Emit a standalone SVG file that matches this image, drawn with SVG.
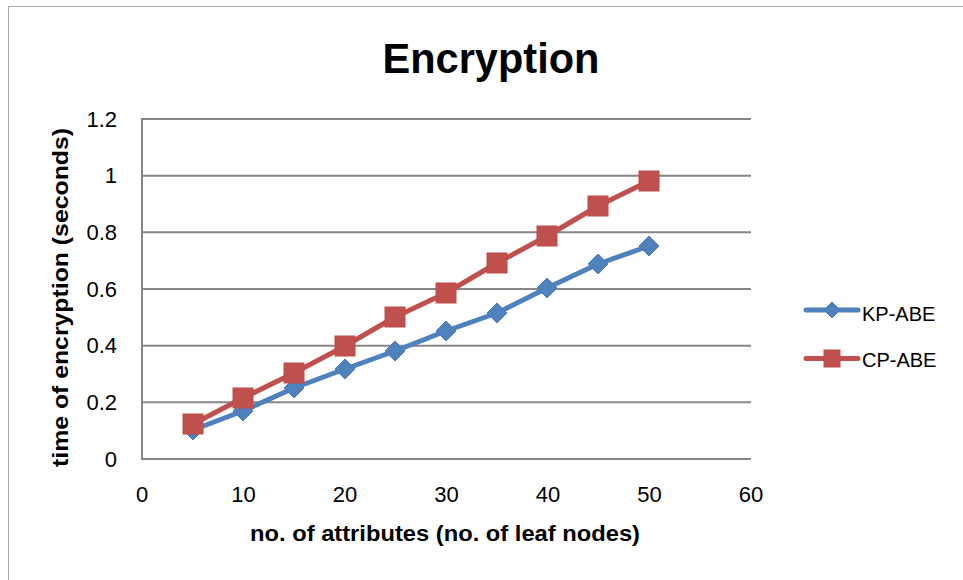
<svg xmlns="http://www.w3.org/2000/svg" width="963" height="580" viewBox="0 0 963 580">
<defs>
<style>
.grid{stroke:#878787;stroke-width:2;fill:none}
.tick{font-family:"Liberation Sans",Arial,sans-serif;font-size:22px;fill:#000}
.leg{font-family:"Liberation Sans",Arial,sans-serif;font-size:20px;fill:#000}
.bold{font-family:"Liberation Sans",Arial,sans-serif;font-weight:bold;fill:#000}
.kp{stroke:#4F81BD;stroke-width:5;fill:none;stroke-linejoin:round;stroke-linecap:round}
.cp{stroke:#C0504D;stroke-width:5;fill:none;stroke-linejoin:round;stroke-linecap:round}
.kpm{fill:#4F81BD;stroke:#4A7EBB;stroke-width:1}
.cpm{fill:#C0504D;stroke:#BE4B48;stroke-width:1}
</style>
<path id="dia" d="M0,-10 L10,0 L0,10 L-10,0 Z"/>
<rect id="sq" x="-10" y="-10" width="20" height="20"/>
<path id="ldia" d="M0,-8 L8,0 L0,8 L-8,0 Z"/>
<rect id="lsq" x="-8" y="-8.5" width="16" height="17"/>
</defs>
<rect x="0" y="0" width="963" height="580" fill="#fff"/>
<rect x="8.5" y="6.5" width="960" height="580" fill="none" stroke="#a6a6a6" stroke-width="1"/>
<text class="bold" x="491" y="73" font-size="43" text-anchor="middle" textLength="217" lengthAdjust="spacingAndGlyphs">Encryption</text>
<g id="grid">
<line class="grid" x1="142" y1="119" x2="751" y2="119"/>
<line class="grid" x1="142" y1="175.7" x2="751" y2="175.7"/>
<line class="grid" x1="142" y1="232.3" x2="751" y2="232.3"/>
<line class="grid" x1="142" y1="289" x2="751" y2="289"/>
<line class="grid" x1="142" y1="345.7" x2="751" y2="345.7"/>
<line class="grid" x1="142" y1="402.3" x2="751" y2="402.3"/>
<line class="grid" x1="142" y1="459" x2="751" y2="459"/>
<line class="grid" x1="142" y1="118" x2="142" y2="460"/>
</g>
<g id="yticks" class="tick" text-anchor="end">
<text x="117" y="126.5">1.2</text>
<text x="117" y="183">1</text>
<text x="117" y="240">0.8</text>
<text x="117" y="296.5">0.6</text>
<text x="117" y="353">0.4</text>
<text x="117" y="410">0.2</text>
<text x="117" y="466.5">0</text>
</g>
<g id="xticks" class="tick" text-anchor="middle">
<text x="142" y="501.5">0</text>
<text x="243.5" y="501.5">10</text>
<text x="345" y="501.5">20</text>
<text x="446.5" y="501.5">30</text>
<text x="548" y="501.5">40</text>
<text x="649.5" y="501.5">50</text>
<text x="751" y="501.5">60</text>
</g>
<text class="bold" x="445" y="541" font-size="22" text-anchor="middle" textLength="390" lengthAdjust="spacingAndGlyphs">no. of attributes (no. of leaf nodes)</text>
<text class="bold" transform="translate(68,297.5) rotate(-90)" font-size="22" text-anchor="middle" textLength="339" lengthAdjust="spacingAndGlyphs">time of encryption (seconds)</text>
<g id="connectors">
<polyline class="kp" points="193,430 243,411 294,388 345,369 395,351 446,331 497,313 547,288 598,264 649,246"/>
<polyline class="cp" points="193,424 243,398 294,373 345,346 395,317 446,293 497,263 547,236 598,206 649,181"/>
</g>
<g id="kp-abe">
<use href="#dia" class="kpm" x="193" y="430"/>
<use href="#dia" class="kpm" x="243" y="411"/>
<use href="#dia" class="kpm" x="294" y="388"/>
<use href="#dia" class="kpm" x="345" y="369"/>
<use href="#dia" class="kpm" x="395" y="351"/>
<use href="#dia" class="kpm" x="446" y="331"/>
<use href="#dia" class="kpm" x="497" y="313"/>
<use href="#dia" class="kpm" x="547" y="288"/>
<use href="#dia" class="kpm" x="598" y="264"/>
<use href="#dia" class="kpm" x="649" y="246"/>
</g>
<g id="cp-abe">
<use href="#sq" class="cpm" x="193" y="424"/>
<use href="#sq" class="cpm" x="243" y="398"/>
<use href="#sq" class="cpm" x="294" y="373"/>
<use href="#sq" class="cpm" x="345" y="346"/>
<use href="#sq" class="cpm" x="395" y="317"/>
<use href="#sq" class="cpm" x="446" y="293"/>
<use href="#sq" class="cpm" x="497" y="263"/>
<use href="#sq" class="cpm" x="547" y="236"/>
<use href="#sq" class="cpm" x="598" y="206"/>
<use href="#sq" class="cpm" x="649" y="181"/>
</g>
<g id="legend">
<line class="kp" x1="806" y1="310" x2="858" y2="310"/>
<use href="#ldia" class="kpm" x="832" y="310"/>
<text class="leg" x="862" y="321">KP-ABE</text>
<line class="cp" x1="806" y1="358.5" x2="858" y2="358.5"/>
<use href="#lsq" class="cpm" x="832" y="358.5"/>
<text class="leg" x="862" y="366.5">CP-ABE</text>
</g>
</svg>
